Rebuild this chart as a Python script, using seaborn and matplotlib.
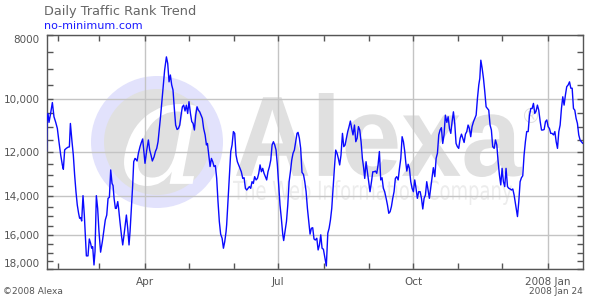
import numpy as np
import pandas as pd
import matplotlib
matplotlib.use("Agg")
import matplotlib.pyplot as plt
import matplotlib.dates as mdates
import seaborn as sns
from matplotlib.ticker import FixedLocator, FixedFormatter, NullFormatter
from matplotlib.textpath import TextPath
from matplotlib.patches import PathPatch, Circle
from matplotlib.font_manager import FontProperties
from matplotlib.transforms import Affine2D, IdentityTransform

# ---------------- data ----------------
start_date = "2007-01-24"
end_date = "2008-01-25"

day_offset = [
    0.0, 0.3, 1.0, 1.7, 2.8, 4.0, 5.1, 6.3, 7.4, 8.5, 9.7, 10.8, 11.5, 12.4, 13.5, 14.7, 15.6, 16.3,
    17.4, 18.3, 19.2, 20.1, 21.0, 21.9, 22.6, 23.3, 24.0, 24.9, 25.8, 26.5, 27.2, 28.3, 29.2, 30.1,
    30.8, 31.5, 32.4, 33.1, 34.0, 34.9, 35.8, 36.9, 38.1, 39.2, 40.1, 41.1, 42.0, 42.9, 43.8, 44.7,
    45.4, 46.1, 47.0, 47.6, 48.6, 49.2, 50.1, 51.1, 52.0, 52.9, 53.8, 54.5, 55.4, 56.3, 57.0, 57.9,
    58.8, 59.5, 60.4,
    60.9, 61.8, 62.7, 63.8, 64.7, 65.6, 66.3, 67.2, 68.4, 69.5, 70.4, 71.3, 72.2, 73.4, 74.3, 75.2,
    76.1, 77.0, 77.9, 78.8, 79.7, 80.6, 81.8, 82.7, 83.6, 84.5, 85.4, 86.3, 87.2, 88.1, 89.1, 90.0,
    90.9, 91.8, 92.7, 93.6, 94.5, 95.4, 96.3, 97.2, 98.2, 99.1, 100.0, 100.9, 101.8, 102.7, 103.6,
    104.5, 105.4, 106.3, 107.2, 108.2, 109.1, 109.8, 110.7, 111.6, 112.5, 113.4, 114.3, 115.2, 116.1,
    117.0, 117.9, 118.8, 119.8, 120.7, 121.6, 122.5,
    122.9, 123.8, 124.8, 125.7, 126.6, 127.5, 128.4, 129.3, 130.2, 131.1, 132.0, 132.9, 133.9, 134.8,
    135.7, 136.6, 137.5, 138.4, 139.3, 140.2, 141.1, 142.0, 143.0, 143.9, 144.8, 145.7, 146.6, 147.5,
    148.4, 149.3, 150.2, 151.1, 152.1, 153.0, 153.9, 154.8, 155.7, 156.6, 157.5, 158.4, 159.3, 160.2,
    161.2, 161.8, 162.7, 163.7, 164.6, 165.5, 166.4, 167.3, 168.2, 169.1, 170.0, 170.9, 171.6, 172.5,
    173.4, 174.3, 175.3, 176.2, 177.1, 178.0, 178.9, 179.8, 180.7, 181.6, 182.5, 183.4,
    184.4, 185.3, 186.2, 187.1, 188.0, 188.9, 189.8, 190.9, 191.9, 192.8, 193.7, 194.6, 195.5, 196.4,
    197.3, 198.2, 199.1, 200.0, 200.9, 201.9, 202.8, 203.7, 204.6, 205.5, 206.4, 207.3, 208.2, 209.1,
    210.1, 211.0, 211.9, 212.8, 213.7, 214.6, 215.5, 216.4, 217.1, 218.0, 218.9, 219.8, 220.7, 221.7,
    222.6, 223.5, 224.4, 225.3, 226.2, 227.1, 228.0, 228.9, 229.8, 230.7, 231.7, 232.6, 233.5, 234.4,
    235.3, 236.2, 237.1, 238.0, 238.9, 239.9, 240.8, 241.7, 242.6, 243.5, 244.4, 245.1,
    245.8, 246.7, 247.6, 248.5, 249.4, 250.3, 251.2, 252.1, 253.0, 253.9, 254.9, 255.8, 256.7, 257.6,
    258.5, 259.4, 260.3, 261.2, 262.1, 263.0, 263.9, 264.9, 265.8, 266.7, 267.6, 268.5, 269.4, 270.3,
    271.2, 272.1, 273.1, 274.0, 274.9, 275.8, 276.7, 277.6, 278.5, 279.4, 280.3, 281.2, 282.2, 283.1,
    284.0, 284.9, 285.8, 286.7, 287.6, 288.5, 289.4, 290.3, 291.3, 292.2, 293.1, 294.0, 294.9, 295.6,
    296.3, 297.2, 298.1, 299.0, 299.9, 300.8, 301.7, 302.6, 303.5, 304.4, 305.4, 306.3,
    307.2, 308.1, 309.0, 309.9, 310.8, 311.7, 312.6, 313.5, 314.5, 315.4, 316.3, 317.2, 318.1, 319.0,
    319.9, 320.8, 321.3, 322.2, 323.1, 324.0, 324.9, 325.8, 326.7, 327.6, 328.6, 329.5, 330.4, 331.3,
    332.2, 333.1, 334.0, 334.9, 335.8, 336.8, 337.7, 338.6, 339.5, 340.4, 341.3, 342.2, 343.1, 344.0,
    344.9, 345.9, 346.8, 347.7, 348.6, 349.5, 350.4, 351.3, 352.2, 353.1, 354.0, 354.9, 355.9, 356.8,
    357.7, 358.6, 359.5, 360.4, 361.3, 362.2, 363.1, 364.0, 364.9, 365.9,
]

rank = [
    11980, 10800, 10500, 10830, 10500, 10110, 10620, 10830, 11060, 11580, 12130, 12550, 12740, 11910,
    11850, 11800, 11790, 10870, 11580, 12130, 13000, 13770, 14420, 14840, 15100, 15060, 15240, 13960,
    14930, 15990, 17200, 17200, 16220, 16470, 16750, 16660, 17750, 16940, 13960, 14590, 15810, 16980,
    16370, 15720, 15190, 14930, 14090, 14040, 12770, 13380, 13480, 14090, 14590, 14590, 14250, 14590,
    15270, 15990, 16560, 15990, 15360, 14930, 15630, 16560, 15810, 14590, 13450, 12410, 12270,
    12300, 12380, 12050, 11780, 11610, 11470, 11920, 12480, 11920, 11510, 11920, 12130, 12380, 12200,
    11980, 11850, 11580, 11060, 10560, 10020, 9510, 9030, 8630, 8830, 9410, 9190, 9510, 9680, 10320,
    10930, 11100, 11060, 10930, 10560, 10260, 10200, 10410, 10200, 10500, 10080, 10500, 10800, 10870,
    11120, 10560, 10260, 10380, 10440, 10560, 10680, 11060, 11310, 11710, 11650, 12130, 12620, 12270,
    12410, 12620, 12580, 13150, 14250, 15270, 15950, 16180, 16750, 16370, 15810,
    15450, 14250, 13000, 11980, 11710, 11180, 11250, 12130, 12410, 12550, 12700, 12850, 13150, 13120,
    13610, 13690, 13610, 13530, 13610, 13300, 13380, 13070, 13220, 13150, 12920, 12550, 12850, 12700,
    12920, 13070, 13220, 12850, 12620, 12340, 11710, 11580, 11710, 11920, 12550, 13450, 14420, 15100,
    15990, 16310, 15810, 15270, 14420, 13300, 12850, 12340, 12050, 11920, 11580, 11250, 11210, 11440,
    11850, 12880, 12970, 13300, 13770, 14590, 15270, 15950, 15630, 15600, 16220, 16280,
    16180, 16850, 16560, 15990, 16750, 16810, 17240, 17810, 15900, 15630, 15190, 14590, 13610, 12700,
    11920, 12050, 12270, 12550, 12130, 11250, 11780, 11710, 11440, 11180, 10990, 10780, 11060, 11310,
    10930, 11580, 11440, 10990, 11120, 11580, 12270, 12700, 13150, 12410, 12850, 13300, 13770, 13300,
    12850, 12850, 12820, 12920, 12550, 11980, 13220, 13120, 13610, 13770, 14090, 14420, 14840, 14760,
    14500, 14090, 13770, 13150, 13070, 13220, 12700, 12270, 11380, 11580, 11980, 12440,
    12820, 12520, 12700, 13300, 13610, 13770, 13220, 13610, 14090, 13770, 13770, 14090, 14620, 14090,
    13930, 13300, 13690, 14090, 13610, 13150, 12670, 13070, 12270, 12050, 11310, 11120, 11030, 11650,
    11310, 10560, 10830, 10620, 11060, 11250, 10800, 10440, 10870, 11650, 11780, 11850, 11440, 11280,
    11440, 11610, 11280, 11180, 10930, 11060, 11380, 10990, 10800, 10680, 10560, 9960, 9510, 9300,
    8730, 8980, 9300, 9740, 10260, 10320, 10380, 10930, 11120, 11780, 11850, 11510,
    11710, 12410, 13000, 13450, 12700, 13300, 13530, 12700, 13530, 13610, 13640, 13690, 13640, 13930,
    14330, 14760, 15010, 14250, 13300, 13120, 13030, 12130, 11580, 11180, 11180, 10560, 10320, 10320,
    10140, 10500, 10410, 10200, 10380, 10800, 11120, 11120, 11100, 10800, 10740, 10990, 11060, 11250,
    11250, 11310, 11180, 11580, 11850, 11180, 10930, 10320, 9910, 10200, 9850, 9570, 9510, 9410,
    9620, 9620, 10320, 10380, 10680, 10870, 11310, 11510, 11580, 11650,
]

ytick_values = [8000, 10000, 12000, 14000, 16000, 18000]
ytick_labels = ["8000", "10,000", "12,000", "14,000", "16,000", "18,000"]
yminor_values = [v for v in range(8500, 18000, 500) if v not in ytick_values]
xtick_dates = ["2007-04-01", "2007-07-01", "2007-10-01", "2008-01-01"]
xtick_labels = ["Apr", "Jul", "Oct", "2008 Jan"]
xminor_dates = ["2007-02-01", "2007-03-01", "2007-05-01", "2007-06-01", "2007-08-01",
                "2007-09-01", "2007-11-01", "2007-12-01"]

title_text = "Daily Traffic Rank Trend"
site_text = "no-minimum.com"
copyright_text = "\u00a92008 Alexa"
date_text = "2008 Jan 24"

# ---------------- figure ----------------
sns.set_style("white")
plt.rcParams["font.family"] = ["DejaVu Sans"]

W, H = 610, 300
fig = plt.figure(figsize=(W / 100, H / 100), dpi=100, facecolor="white")

L, R, T, B = 46.5, 583.0, 35.0, 269.0
ax = fig.add_axes([L / W, 1 - B / H, (R - L) / W, (B - T) / H])
ax.set_facecolor("none")


def px(x, y_from_top):
    return x, H - y_from_top


# watermark (decoration, pixel coordinates)
cx, cy = px(157, 142)
fig.add_artist(Circle((cx, cy), 66, transform=IdentityTransform(),
                      facecolor="#e2e2fc", edgecolor="none", zorder=-3))
fig.add_artist(Circle((cx, cy), 53, transform=IdentityTransform(),
                      facecolor="#e0e0e0", edgecolor="none", zorder=-2))


def fitted_text(s, box, color, prop, z):
    x0, ytop, x1, ybot = box
    tp = TextPath((0, 0), s, size=100, prop=prop)
    ext = tp.get_extents()
    sx = (x1 - x0) / ext.width
    sy = (ybot - ytop) / ext.height
    tr = Affine2D().translate(-ext.x0, -ext.y0).scale(sx, sy).translate(x0, H - ybot)
    fig.add_artist(PathPatch(tp, transform=tr, facecolor=color, edgecolor="none", zorder=z))


fitted_text("a", (124, 104, 196, 186), "white",
            FontProperties(family="DejaVu Serif", style="italic"), -1)
fitted_text("Alexa", (236, 93, 522, 177), "#e0e0e0",
            FontProperties(family="Liberation Sans", weight="bold"), -1)
fitted_text("\u00ae", (524, 108, 538, 123), "#e0e0e0",
            FontProperties(family="DejaVu Sans"), -1)
fitted_text("The Web Information Company", (233, 180, 512, 205), "#ececec",
            FontProperties(family="DejaVu Sans"), -1)

# data line
df = pd.DataFrame({
    "date": pd.Timestamp(start_date) + pd.to_timedelta(day_offset, unit="D"),
    "rank": rank,
})
sns.lineplot(data=df, x="date", y="rank", ax=ax, color="#0a0aff", linewidth=1.0,
             estimator=None, sort=False, zorder=5)

ax.set_yscale("log")
ax.set_ylim(18000, 8000)
ax.set_xlim(pd.Timestamp(start_date), pd.Timestamp(end_date))

ax.yaxis.set_major_locator(FixedLocator(ytick_values))
ax.yaxis.set_major_formatter(FixedFormatter(ytick_labels))
ax.yaxis.set_minor_locator(FixedLocator(yminor_values))
ax.yaxis.set_minor_formatter(NullFormatter())

ax.xaxis.set_major_locator(FixedLocator(mdates.date2num(pd.to_datetime(xtick_dates))))
ax.xaxis.set_major_formatter(FixedFormatter(xtick_labels))
ax.xaxis.set_minor_locator(FixedLocator(mdates.date2num(pd.to_datetime(xminor_dates))))
ax.xaxis.set_minor_formatter(NullFormatter())

ax.set_xlabel("")
ax.set_ylabel("")

ax.grid(True, which="major", color="#c4c4c4", linewidth=1.0, zorder=1)
ax.set_axisbelow(True)

spine_color = "#555555"
for s in ax.spines.values():
    s.set_color(spine_color)
    s.set_linewidth(1.0)
    s.set_visible(True)

ax.tick_params(axis="both", which="both", direction="in", color=spine_color,
               top=True, right=True, bottom=True, left=True, width=1.0)
ax.tick_params(axis="both", which="major", length=4, labelsize=7.5, labelcolor="#555555")
ax.tick_params(axis="both", which="minor", length=4)
ax.tick_params(axis="y", which="major", pad=5)
ax.tick_params(axis="x", which="major", pad=6)

yt = ax.yaxis.get_major_ticks()
yt[0].label1.set_verticalalignment("top")
yt[-1].label1.set_verticalalignment("bottom")

# header / footer text
fig.text(44 / W, 1 - 11 / H, title_text, ha="left", va="center", fontsize=9.3, color="#666666")
fig.text(44 / W, 1 - 26 / H, site_text, ha="left", va="center", fontsize=8, color="#1a1aff")
fig.text(3 / W, 1 - 292 / H, copyright_text, ha="left", va="center", fontsize=6.5, color="#555555")
fig.text(583 / W, 1 - 292 / H, date_text, ha="right", va="center", fontsize=6.5, color="#555555")

fig.savefig("out.png", dpi=100, facecolor="white")
